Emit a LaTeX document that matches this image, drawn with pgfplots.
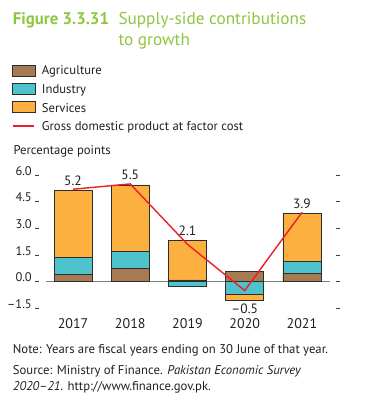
\documentclass[border=0pt]{standalone}
\usepackage{fontspec}
\setmainfont{PT Sans}
\usepackage{pgfplots}
\pgfplotsset{compat=1.18}
\definecolor{titlegreen}{RGB}{141,198,63}
\definecolor{agri}{RGB}{166,123,82}
\definecolor{ind}{RGB}{78,195,205}
\definecolor{serv}{RGB}{251,176,64}
\definecolor{gdp}{RGB}{236,30,38}
\definecolor{edge}{RGB}{45,45,45}
\definecolor{txt}{RGB}{35,31,32}
\begin{document}
\begin{tikzpicture}[x=1pt,y=1pt]
\path[use as bounding box] (0pt,0pt) rectangle (371pt,419pt);
% title
\node[anchor=base west, inner sep=0, text=titlegreen, font=\fontsize{16.8}{19}\selectfont\bfseries] at (12.7pt,394pt) {Figure 3.3.31};
\node[anchor=base west, inner sep=0, text=titlegreen, font=\fontsize{17.2}{19}\selectfont] at (118.3pt,394pt) {Supply-side contributions};
\node[anchor=base west, inner sep=0, text=titlegreen, font=\fontsize{17.2}{19}\selectfont] at (118.3pt,373.3pt) {to growth};
% legend
\filldraw[fill=agri, draw=edge, line width=0.8pt] (12.7pt,343pt) rectangle (35pt,354pt);
\filldraw[fill=ind, draw=edge, line width=0.8pt] (12.7pt,324.7pt) rectangle (35pt,335.7pt);
\filldraw[fill=serv, draw=edge, line width=0.8pt] (12.7pt,306.3pt) rectangle (35pt,317.3pt);
\draw[gdp, line width=1.4pt] (12.7pt,293pt) -- (34.3pt,293pt);
\begin{scope}[every node/.style={anchor=base west, inner sep=0, text=txt, font=\fontsize{12.7}{15}\selectfont}]
\node at (41.7pt,344pt) {Agriculture};
\node at (41.7pt,325pt) {Industry};
\node at (41.7pt,306.7pt) {Services};
\node at (41.7pt,288.3pt) {Gross domestic product at factor cost};
\node at (13.3pt,264pt) {Percentage points};
\node at (12.7pt,65.7pt) {Note: Years are fiscal years ending on 30 June of that year.};
\node at (12.7pt,44pt) {Source: Ministry of Finance. \textit{Pakistan Economic Survey}};
\node at (12.7pt,28.3pt) {\textit{2020--21}. http://www.finance.gov.pk.};
\end{scope}
\begin{axis}[
  at={(35pt,107.1pt)}, anchor=south west, scale only axis,
  width=305pt, height=142.2pt,
  xmin=-0.664, xmax=4.664, ymin=-1.7, ymax=6.3,
  axis line style={draw=none},
  ytick={-1.5,0,1.5,3,4.5,6},
  yticklabels={--1.5,0.0,1.5,3.0,4.5,6.0},
  ytick pos=both, yticklabel pos=left,
  tick align=inside,
  major tick length=4pt,
  ytick style={draw=black!75, line width=0.9pt},
  yticklabel style={anchor=base east, inner sep=0pt, xshift=-3pt, text=txt, font=\fontsize{12.5}{14}\selectfont},
  xtick={0,1,2,3,4}, xticklabels={2017,2018,2019,2020,2021},
  xtick style={draw=none},
  xticklabel style={anchor=base, inner sep=0pt, yshift=-16.4pt, text=txt, font=\fontsize{14}{16}\selectfont},
  clip=false,
]
% zero line
\addplot[draw=black!50, line width=1.2pt, forget plot] coordinates {(-0.47,0) (4.49,0)};
% bars (outer extents drawn first, inner segments over them)
\addplot[ybar, bar width=0.664, bar shift=0pt, fill=serv, draw=edge, line width=0.8pt, forget plot]
  coordinates {(0,5.12) (1,5.44) (2,2.34) (3,-1.03) (4,3.83)};
\addplot[ybar, bar width=0.664, bar shift=0pt, fill=ind, draw=edge, line width=0.8pt, forget plot]
  coordinates {(0,1.35) (1,1.69) (2,-0.28) (3,-0.71) (4,1.16)};
\addplot[ybar, bar width=0.664, bar shift=0pt, fill=agri, draw=edge, line width=0.8pt, forget plot]
  coordinates {(0,0.41) (1,0.75) (2,0.10) (3,0.56) (4,0.47)};
% GDP line
\addplot[gdp, line width=1.4pt, forget plot]
  coordinates {(0,5.2) (1,5.5) (2,2.1) (3,-0.5) (4,3.9)};
% value labels
\addplot[draw=none, forget plot, nodes near coords, point meta=explicit symbolic,
  every node near coord/.append style={anchor=base, inner sep=0pt, yshift=5pt, text=txt, font=\fontsize{13.5}{15}\selectfont}]
  coordinates {(0,5.12)[5.2] (1,5.44)[5.5] (2,2.34)[2.1] (4,3.83)[3.9]};
\addplot[draw=none, forget plot, nodes near coords, point meta=explicit symbolic,
  every node near coord/.append style={anchor=base, inner sep=0pt, yshift=-13.3pt, text=txt, font=\fontsize{13.5}{15}\selectfont}]
  coordinates {(3,-1.03)[--0.5]};
\end{axis}
\end{tikzpicture}
\end{document}
